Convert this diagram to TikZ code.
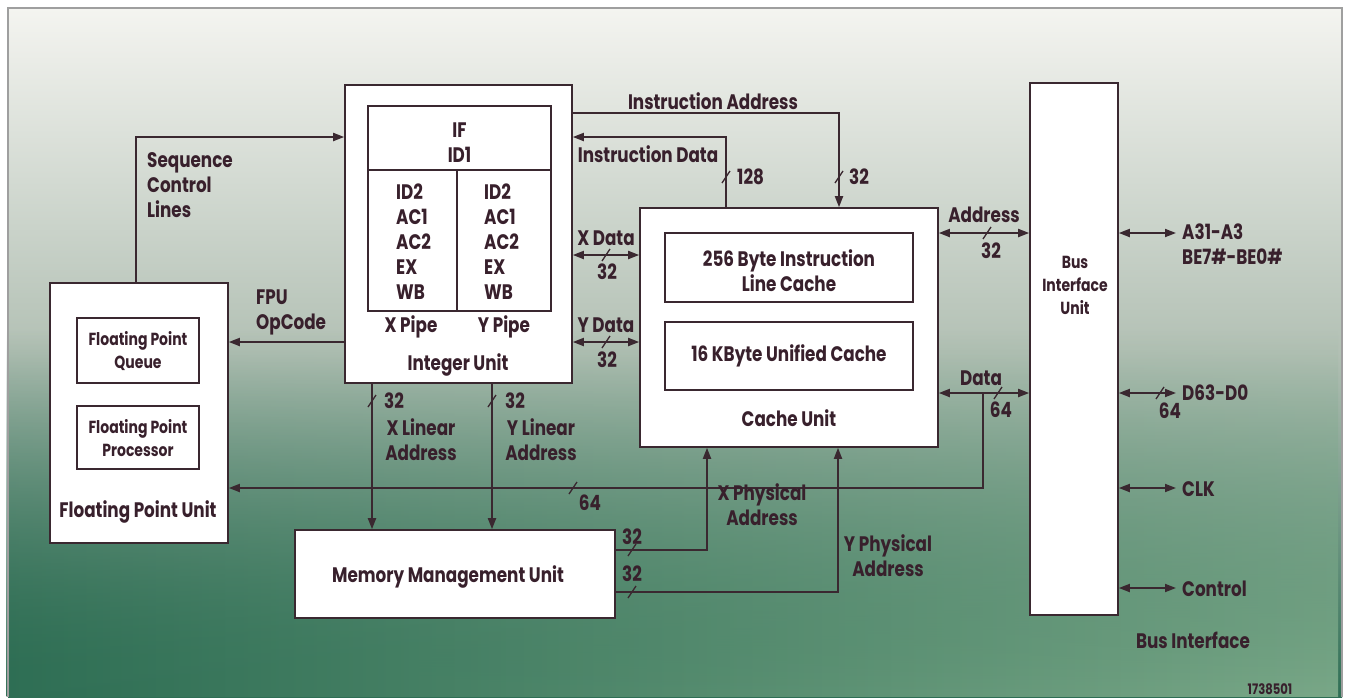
\documentclass[tikz,border=0pt]{standalone}
\usepackage{fontspec}
\setmainfont{Poppins}[FakeStretch=0.8]
\usetikzlibrary{arrows.meta,fadings}
\definecolor{ink}{HTML}{38202C}
\definecolor{linec}{HTML}{3A2830}
\definecolor{bgtop}{HTML}{F4F4F0}
\definecolor{bgmid}{HTML}{B2C0B4}
\definecolor{bgbot}{HTML}{2E6E54}
\definecolor{bgbr}{HTML}{7AA888}
\tikzset{
  box/.style={draw=linec, line width=1.6pt, fill=white, inner sep=0pt},
  inbox/.style={draw=linec, line width=1.4pt, inner sep=0pt},
  lbl/.style={text=ink, font=\bfseries\fontsize{21}{25}\selectfont, align=center, inner sep=0pt},
  slbl/.style={text=ink, font=\bfseries\fontsize{17.5}{23}\selectfont, align=center, inner sep=0pt},
  wire/.style={draw=linec, line width=1.8pt},
  tip/.tip={Triangle[length=11pt,width=8pt]},
  pics/busslash/.style={code={\draw[draw=linec, line width=1.3pt] (-4,6) -- (4,-6);}}
}
\begin{document}
\begin{tikzpicture}[x=1pt,y=-1pt]
\useasboundingbox (0,0) rectangle (1352,697);
\fill[white] (0,0) rectangle (1352,697);
\shade[top color=bgtop, bottom color=bgbot, middle color=bgmid] (8,8) rectangle (1342,697);
\shade[left color=bgbot, right color=bgbr, path fading=north] (8,330) rectangle (1342,697);
\draw[gray!75, line width=1.2pt] (8,697) -- (8,8) -- (1342,8) -- (1342,697);

% boxes
\node[box, minimum width=178pt, minimum height=260pt] (fpu) at (139,413) {};
\node[inbox, minimum width=122pt, minimum height=65pt] (fpq) at (138,350.5) {};
\node[inbox, minimum width=122pt, minimum height=63pt] (fpp) at (138,437.5) {};
\node[box, minimum width=227pt, minimum height=298pt] (iu) at (458.5,234) {};
\node[inbox, minimum width=183pt, minimum height=64pt] (ifb) at (459.5,138) {};
\node[inbox, minimum width=89pt, minimum height=141pt] (xpipe) at (412.5,240.5) {};
\node[inbox, minimum width=94pt, minimum height=141pt] (ypipe) at (504,240.5) {};
\node[box, minimum width=298pt, minimum height=239pt] (cu) at (789,327.5) {};
\node[inbox, minimum width=248pt, minimum height=69pt] (ilc) at (789,267.5) {};
\node[inbox, minimum width=248pt, minimum height=68pt] (uc) at (789,356) {};
\node[box, minimum width=320pt, minimum height=88pt] (mmu) at (455,574) {};
\node[box, minimum width=88pt, minimum height=532pt] (biu) at (1074,349) {};

% texts in boxes
\node[slbl] (tfpq) at (138,351) {Floating Point\\Queue};
\node[slbl] (tfpp) at (138,438) {Floating Point\\Processor};
\node[lbl] (tfpu) at (138,512) {Floating Point Unit};
\node[lbl] (tif) at (459.5,143) {IF\\ID1};
\node[lbl, align=left, anchor=west] (txp) at (396,242) {ID2\\AC1\\AC2\\EX\\WB};
\node[lbl, align=left, anchor=west] (typ) at (484,242) {ID2\\AC1\\AC2\\EX\\WB};
\node[lbl] (txpl) at (411,327) {X Pipe};
\node[lbl] (typl) at (504,327) {Y Pipe};
\node[lbl] (tiu) at (458,365) {Integer Unit};
\node[lbl] (tilc) at (789,271) {256 Byte Instruction\\Line Cache};
\node[lbl] (tuc) at (789,356) {16 KByte Unified Cache};
\node[lbl] (tcu) at (789,418) {Cache Unit};
\node[lbl] (tmmu) at (448,577) {Memory Management Unit};
\node[slbl] (tbiu) at (1075,285) {Bus\\Interface\\Unit};

% helper coordinates
\coordinate (sq) at (136,137);
\coordinate (op) at (300,342);
\coordinate (ia) at (839,113);
\coordinate (idt) at (726,137);
\coordinate (xd) at (606,255);
\coordinate (yd) at (606,342);
\coordinate (ad) at (984,233);
\coordinate (dt) at (983,393);
\coordinate (cl) at (983,488);
\coordinate (xl) at (372,400);
\coordinate (yl) at (492,400);
\coordinate (xp) at (707,550);
\coordinate (yp) at (838,592);
\coordinate (ea) at (1176,233);
\coordinate (ed) at (1176,393);
\coordinate (ec) at (1176,488);
\coordinate (ek) at (1176,588);

% connectors
\draw[wire,-tip] (sq |- fpu.north) -- (sq) -- (sq -| iu.west);
\draw[wire,-tip] (op -| iu.west) -- (op -| fpu.east);
\draw[wire,-tip] (ia -| iu.east) -- (ia) -- (ia |- cu.north);
\draw[wire,-tip] (idt |- cu.north) -- (idt) -- (idt -| iu.east);
\draw[wire,tip-tip] (xd -| iu.east) -- (xd -| cu.west);
\draw[wire,tip-tip] (yd -| iu.east) -- (yd -| cu.west);
\draw[wire,tip-tip] (ad -| cu.east) -- (ad -| biu.west);
\draw[wire,tip-tip] (dt -| cu.east) -- (dt -| biu.west);
\draw[wire,-tip] (dt) -- (cl) -- (cl -| fpu.east);
\draw[wire,-tip] (xl |- iu.south) -- (xl |- mmu.north);
\draw[wire,-tip] (yl |- iu.south) -- (yl |- mmu.north);
\draw[wire,-tip] (xp -| mmu.east) -- (xp) -- (xp |- cu.south);
\draw[wire,-tip] (yp -| mmu.east) -- (yp) -- (yp |- cu.south);
\draw[wire,tip-tip] (ea -| biu.east) -- (ea);
\draw[wire,tip-tip] (ed -| biu.east) -- (ed);
\draw[wire,tip-tip] (ec -| biu.east) -- (ec);
\draw[wire,tip-tip] (ek -| biu.east) -- (ek);

% bus slashes
\pic at (839,177) {busslash};
\pic at (726,177) {busslash};
\pic at (606,255) {busslash};
\pic at (606,342) {busslash};
\pic at (987,233) {busslash};
\pic at (998,393) {busslash};
\pic at (573,488) {busslash};
\pic at (372,401) {busslash};
\pic at (492,401) {busslash};
\pic at (632,550) {busslash};
\pic at (632,592) {busslash};
\pic at (1160,393) {busslash};

% connector labels
\node[lbl, align=left, anchor=west] (tseq) at (147,185) {Sequence\\Control\\Lines};
\node[lbl, align=left, anchor=west] (tfop) at (256,312) {FPU\\OpCode};
\node[lbl] (tia) at (713,101) {Instruction Address};
\node[lbl] (tid) at (648,154) {Instruction Data};
\node[lbl, anchor=west] (t128) at (737,177) {128};
\node[lbl, anchor=west] (t32a) at (849,177) {32};
\node[lbl] (txd) at (606,238) {X Data};
\node[lbl] (txd32) at (607,272) {32};
\node[lbl] (tyd) at (606,325) {Y Data};
\node[lbl] (tyd32) at (607,360) {32};
\node[lbl] (tad) at (984,215) {Address};
\node[lbl] (tad32) at (991,251) {32};
\node[lbl] (tdt) at (981,378) {Data};
\node[lbl] (tdt64) at (1001,410) {64};
\node[lbl] (tcl64) at (590,503) {64};
\node[lbl] (txl32) at (394,401) {32};
\node[lbl] (txl) at (421,440) {X Linear\\Address};
\node[lbl] (tyl32) at (515,401) {32};
\node[lbl] (tyl) at (541,440) {Y Linear\\Address};
\node[lbl] (txp32) at (632,537) {32};
\node[lbl] (typ32) at (632,574) {32};
\node[lbl] (txpa) at (762,505) {X Physical\\Address};
\node[lbl] (typa) at (888,556) {Y Physical\\Address};
\node[lbl, align=left, anchor=west] (tea) at (1182,244) {A31-A3\\BE7\#-BE0\#};
\node[lbl, anchor=west] (ted) at (1182,393) {D63-D0};
\node[lbl] (ted64) at (1170,411) {64};
\node[lbl, anchor=west] (tec) at (1182,489) {CLK};
\node[lbl, anchor=west] (tek) at (1182,589) {Control};
\node[lbl] (tbi) at (1193,640) {Bus Interface};
\node[slbl, font=\bfseries\fontsize{14.5}{16}\selectfont] (tnum) at (1270,689) {1738501};
\end{tikzpicture}
\end{document}
